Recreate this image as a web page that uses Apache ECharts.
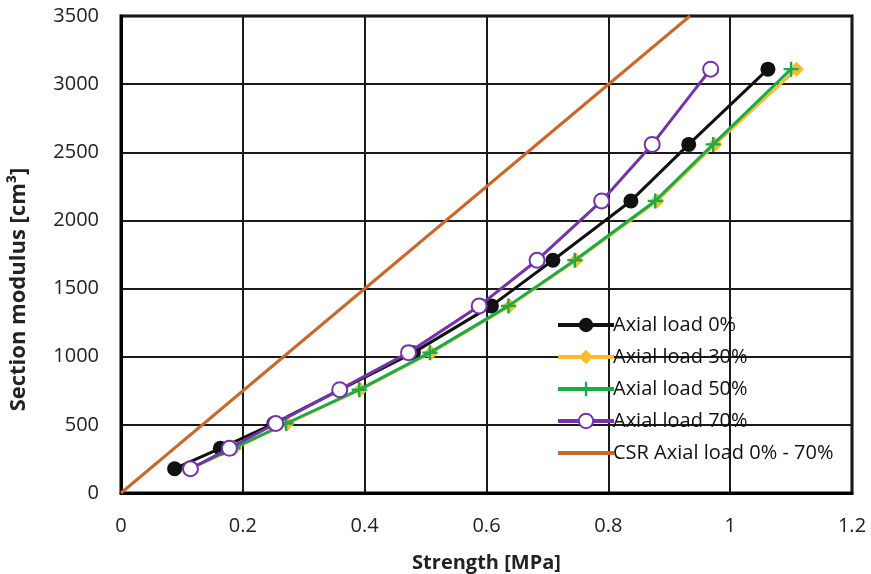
<!DOCTYPE html>
<html>
<head>
<meta charset="utf-8">
<script src="https://cdn.jsdelivr.net/npm/echarts@6/dist/echarts.min.js"></script>
<style>html,body{margin:0;padding:0;background:#fff}#c{width:871px;height:574px}</style>
</head>
<body>
<div id="c"></div>
<script>
const sectionModulus = [178, 328, 510, 758, 1030, 1373, 1708, 2143, 2558, 3110];
const strength0  = [0.088, 0.163, 0.251, 0.360, 0.480, 0.608, 0.709, 0.837, 0.932, 1.062];
const strength30 = [0.114, 0.186, 0.273, 0.393, 0.509, 0.638, 0.747, 0.880, 0.975, 1.109];
const strength50 = [0.113, 0.184, 0.271, 0.391, 0.507, 0.636, 0.745, 0.877, 0.972, 1.100];
const strength70 = [0.114, 0.178, 0.254, 0.359, 0.472, 0.588, 0.683, 0.789, 0.872, 0.968];
const csrStrength = [0, 0.934];
const csrModulus = [0, 3500];
const seriesNames = ['Axial load 0%', 'Axial load 30%', 'Axial load 50%', 'Axial load 70%', 'CSR Axial load 0% - 70%'];

const zip = (xs, ys) => xs.map((x, i) => [x, ys[i]]);
const FONT = 'Open Sans';
const plusPath = 'path://M4.2,0H5.8V4.2H10V5.8H5.8V10H4.2V5.8H0V4.2H4.2Z';

const chart = echarts.init(document.getElementById('c'));
chart.setOption({
  animation: false,
  grid: { left: 121, right: 19, top: 16, bottom: 81, outerBoundsMode: 'none', containLabel: false,
          show: true, borderColor: '#000', borderWidth: 3, backgroundColor: 'transparent' },
  legend: {
    orient: 'vertical', left: 551, top: 310,
    itemWidth: 56, itemHeight: 18, itemGap: 12,
    lineStyle: { width: 4 },
    textStyle: { fontFamily: FONT, fontSize: 20, color: '#111', padding: [0, 0, 0, -6] },
    data: [
      { name: seriesNames[0] },
      { name: seriesNames[1] },
      { name: seriesNames[2] },
      { name: seriesNames[3] },
      { name: seriesNames[4], itemStyle: { opacity: 0 } }
    ]
  },
  xAxis: {
    type: 'value', min: 0, max: 1.2, interval: 0.2,
    name: 'Strength [MPa]', nameLocation: 'middle', nameGap: 60,
    nameTextStyle: { fontFamily: FONT, fontSize: 20, fontWeight: 'bold', color: '#222' },
    axisLine: { show: true, lineStyle: { color: '#000', width: 3 } },
    axisTick: { show: false },
    axisLabel: { fontFamily: FONT, fontSize: 20, color: '#222', margin: 23, formatter: v => String(Math.round(v * 10) / 10) },
    splitLine: { show: true, lineStyle: { color: '#1a1a1a', width: 2 } }
  },
  yAxis: {
    type: 'value', min: 0, max: 3500, interval: 500,
    name: 'Section modulus [cm³]', nameLocation: 'middle', nameGap: 91,
    nameTextStyle: { fontFamily: FONT, fontSize: 22, fontWeight: 'bold', color: '#222', padding: [0, 70, 0, 0] },
    axisLine: { show: true, lineStyle: { color: '#000', width: 3 } },
    axisTick: { show: false },
    axisLabel: { fontFamily: FONT, fontSize: 20, color: '#222', margin: 22, formatter: v => String(v) },
    splitLine: { show: true, lineStyle: { color: '#1a1a1a', width: 2 } }
  },
  series: [
    { name: seriesNames[4], type: 'line', data: zip(csrStrength, csrModulus), showSymbol: false, symbol: 'circle',
      lineStyle: { color: '#C8682A', width: 3 }, itemStyle: { color: '#C8682A' }, z: 2 },
    { name: seriesNames[0], type: 'line', data: zip(strength0, sectionModulus), symbol: 'circle', symbolSize: 15,
      lineStyle: { color: '#111', width: 3 }, itemStyle: { color: '#111' }, z: 3 },
    { name: seriesNames[1], type: 'line', data: zip(strength30, sectionModulus), symbol: 'diamond', symbolSize: 15,
      lineStyle: { color: '#FBBC2A', width: 3 }, itemStyle: { color: '#FBBC2A' }, z: 3 },
    { name: seriesNames[2], type: 'line', data: zip(strength50, sectionModulus), symbol: plusPath, symbolSize: 15,
      lineStyle: { color: '#1BAA4E', width: 3 }, itemStyle: { color: '#1BAA4E' }, z: 4 },
    { name: seriesNames[3], type: 'line', data: zip(strength70, sectionModulus), symbol: 'emptyCircle', symbolSize: 15,
      lineStyle: { color: '#7433A8', width: 3 }, itemStyle: { color: '#7433A8', borderWidth: 2 }, z: 5 }
  ]
});
</script>
</body>
</html>
